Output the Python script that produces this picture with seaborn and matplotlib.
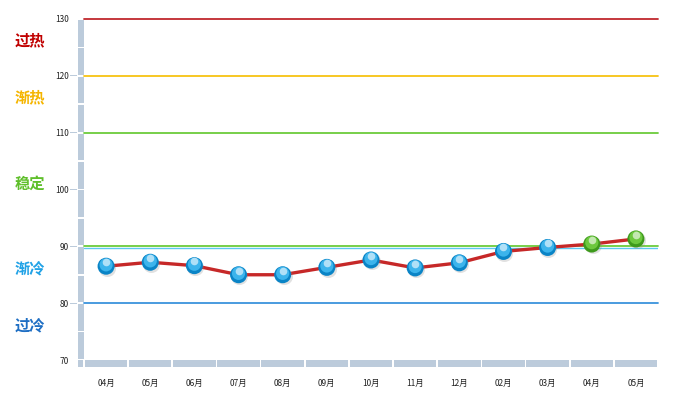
import numpy as np
import pandas as pd
import seaborn as sns
import matplotlib.pyplot as plt
from matplotlib.patches import Rectangle
from matplotlib.transforms import offset_copy

months = ["04月", "05月", "06月", "07月", "08月", "09月", "10月",
          "11月", "12月", "02月", "03月", "04月", "05月"]
values = [86.5, 87.2, 86.6, 85.0, 85.0, 86.3, 87.6, 86.2, 87.1, 89.1, 89.8, 90.4, 91.3]

levels = [130, 120, 110, 90, 80]
level_colors = ["#c0272d", "#f7c312", "#6ccb3c", "#6ccb3c", "#3a93dc"]
zones = ["过热", "渐热", "稳定", "渐冷", "过冷"]
zone_y = [126.2, 116.2, 101.0, 86.1, 76.1]
zone_colors = ["#c00000", "#f5b500", "#5fbf2a", "#21a2e6", "#1f6fc4"]

sns.set_style("white")
plt.rcParams["font.family"] = ["Noto Sans CJK SC", "DejaVu Sans"]

W, H = 687, 398
fig = plt.figure(figsize=(W / 100, H / 100), dpi=100)
x0, x1, y0, y1 = 84, 658, 360, 19
ax = fig.add_axes([x0 / W, 1 - y0 / H, (x1 - x0) / W, (y0 - y1) / H])

df = pd.DataFrame({"x": np.arange(len(values)), "v": values})
df["hot"] = df["v"] >= 90

ax.set_xlim(-0.5, len(values) - 0.5)
ax.set_ylim(70, 130)

for lv, c in zip(levels, level_colors):
    ax.axhline(lv, color=c, lw=1.3, zorder=2, clip_on=False)
# light blue under the 90 green line
ax.axhline(89.75, color="#5ec8f0", lw=1.0, zorder=2)

sns.lineplot(data=df, x="x", y="v", color="#c62828", lw=2.4, ax=ax, zorder=3)

# glossy balls
sh = offset_copy(ax.transData, fig=fig, x=0.6, y=-1.0, units="points")
ax.scatter(df["x"], df["v"], s=150, color="#888888", alpha=0.25, transform=sh, zorder=4, lw=0)
pal = {False: "#0a84c6", True: "#3e9a1c"}
sns.scatterplot(data=df, x="x", y="v", hue="hot", palette=pal, s=150,
                linewidth=0, legend=False, ax=ax, zorder=5)
light = {False: "#3cb4ec", True: "#6cc83e"}
hl = offset_copy(ax.transData, fig=fig, x=0, y=1.0, units="points")
ax.scatter(df["x"], df["v"], s=90, color=[light[h] for h in df["hot"]], transform=hl, zorder=6, lw=0)
hl2 = offset_copy(ax.transData, fig=fig, x=0, y=3.0, units="points")
ax.scatter(df["x"], df["v"], s=30, marker="o", color="white", alpha=0.6,
           transform=hl2, zorder=7, lw=0)

for s in ax.spines.values():
    s.set_visible(False)
ax.set_xlabel("")
ax.set_ylabel("")
ax.set_xticks(df["x"])
ax.set_xticklabels(months, fontsize=6, color="#222222")
ax.tick_params(axis="x", length=0, pad=14)
ax.set_yticks(range(70, 131, 10))
ax.set_yticklabels([str(t) for t in range(70, 131, 10)], fontsize=6, color="#222222")
ax.tick_params(axis="y", length=0, pad=11)

# wall on the left and floor at the bottom
wall = "#bccbdb"
trans_y = ax.get_yaxis_transform()
for b in range(70, 130, 5):
    ax.add_patch(Rectangle((-6 / (x1 - x0), b + 0.15), 6 / (x1 - x0), 4.7,
                           transform=trans_y, color=wall, clip_on=False, lw=0))
for t in range(70, 131, 10):
    ax.add_patch(Rectangle((-14 / (x1 - x0), t - 0.06), 7 / (x1 - x0), 0.12,
                           transform=trans_y, color=wall, clip_on=False, lw=0))
trans_x = ax.get_xaxis_transform()
for i in range(len(values)):
    ax.add_patch(Rectangle((i - 0.5 + 0.02, -7 / (y0 - y1)), 0.96, 7 / (y0 - y1),
                           transform=trans_x, color=wall, clip_on=False, lw=0))
ax.add_patch(Rectangle((-6 / (x1 - x0), -7 / (y0 - y1)), 5 / (x1 - x0), 7 / (y0 - y1),
                       transform=ax.transAxes, color=wall, clip_on=False, lw=0))

for name, yy, c in zip(zones, zone_y, zone_colors):
    ax.text(-69 / (x1 - x0), yy, name, transform=trans_y, color=c,
            fontsize=11, fontweight="bold", va="center", ha="left")

fig.savefig("out.png", dpi=100)
